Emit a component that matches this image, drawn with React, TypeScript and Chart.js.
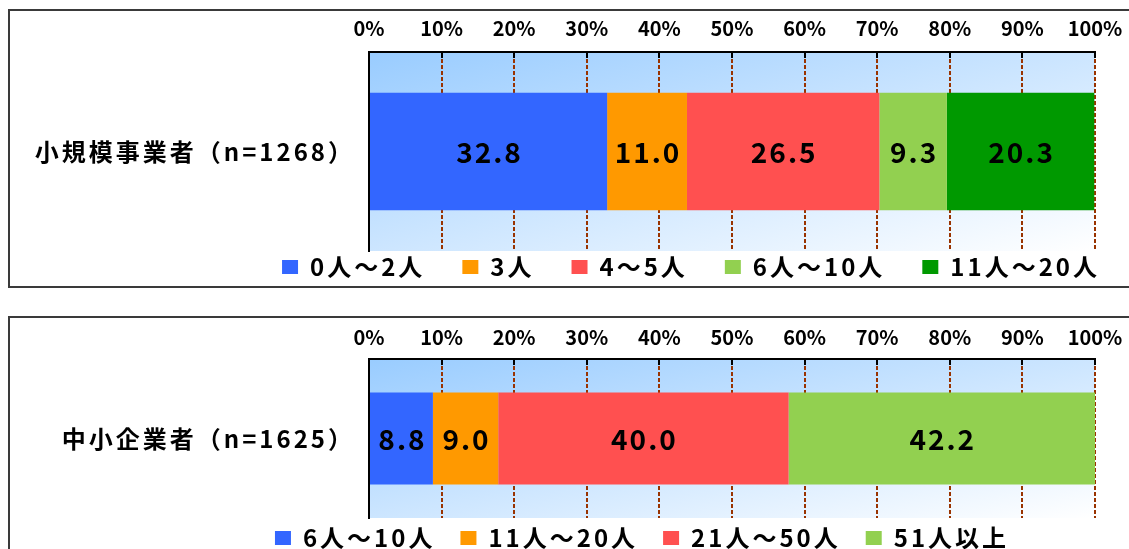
import React, { useEffect, useRef } from 'react';
import { Chart, registerables } from 'chart.js';

Chart.register(...registerables);

const FONT = "'Noto Sans CJK JP', 'Noto Sans CJK SC', sans-serif";

// ---- data ----
const smallCategories = ['小規模事業者（n=1268）'];
const smallSeries = ['0人～2人', '3人', '4～5人', '6人～10人', '11人～20人'];
const smallValues = [32.8, 11.0, 26.5, 9.3, 20.3];

const smeCategories = ['中小企業者（n=1625）'];
const smeSeries = ['6人～10人', '11人～20人', '21人～50人', '51人以上'];
const smeValues = [8.8, 9.0, 40.0, 42.2];

const percentTicks = [0, 10, 20, 30, 40, 50, 60, 70, 80, 90, 100];
const percentTickLabels = percentTicks.map((v) => `${v}%`);

// ---- styles ----
const smallColors = ['#3366FF', '#FF9900', '#FF5050', '#92D050', '#009900'];
const smeColors = ['#3366FF', '#FF9900', '#FF5050', '#92D050'];

type Geo = {
  height: number;
  axisH: number;
  legendH: number;
  legendCenterX: number;
  legendOffsetY: number;
  legendPad: number;
  tickPad: number;
  barPct: number;
};

const bgPlugin = {
  id: 'bgGradient',
  beforeLayout(chart: any) {
    chart.ctx.letterSpacing = '3px';
  },
  beforeDraw(chart: any) {
    const { ctx, chartArea: a } = chart;
    const W = a.right - a.left;
    const H = a.bottom - a.top;
    const k = 2 / (1 / (W * W) + 1 / (H * H));
    const g = ctx.createLinearGradient(a.left, a.top, a.left + k / W, a.top + k / H);
    g.addColorStop(0, '#99CCFF');
    g.addColorStop(1, '#FFFFFF');
    ctx.save();
    ctx.fillStyle = g;
    ctx.fillRect(a.left, a.top, W, H);
    ctx.restore();
    ctx.letterSpacing = '3px';
  },
};

const valueLabelPlugin = {
  id: 'valueLabels',
  afterDatasetsDraw(chart: any) {
    const ctx = chart.ctx;
    ctx.save();
    ctx.letterSpacing = '2px';
    ctx.font = `bold 28px ${FONT}`;
    ctx.fillStyle = '#000';
    ctx.textAlign = 'center';
    ctx.textBaseline = 'middle';
    chart.data.datasets.forEach((ds: any, di: number) => {
      const meta = chart.getDatasetMeta(di);
      meta.data.forEach((el: any, i: number) => {
        const v = ds.data[i] as number;
        const p = el.getProps(['x', 'base', 'y'], true);
        ctx.fillText(v.toFixed(1), (p.x + p.base) / 2 + 1, p.y + 1);
      });
    });
    ctx.restore();
    ctx.letterSpacing = '0px';
  },
};

function legendShift(g: Geo) {
  return {
    id: 'legendShift',
    afterLayout(chart: any) {
      const lg = chart.legend;
      if (!lg) return;
      const itemH = 24;
      const cy = chart.chartArea.bottom + g.legendOffsetY;
      lg.top = cy - itemH / 2 - g.legendPad;
      lg.bottom = cy + itemH;
      lg.height = lg.bottom - lg.top;
      lg.left = g.legendCenterX - 600;
      lg.right = g.legendCenterX + 600;
      lg.width = 1200;
    },
  };
}

function zeroPad(scale: any) {
  scale.paddingLeft = 0;
  scale.paddingRight = 0;
  scale.paddingTop = 0;
  scale.paddingBottom = 0;
}

function makeConfig(categories: string[], series: string[], values: number[], colors: string[], g: Geo): any {
  return {
    type: 'bar',
    data: {
      labels: categories,
      datasets: series.map((s, i) => ({
        label: s,
        data: [values[i]],
        backgroundColor: colors[i],
        borderWidth: 0,
        barPercentage: g.barPct,
        categoryPercentage: 1,
      })),
    },
    options: {
      indexAxis: 'y',
      responsive: false,
      animation: false,
      events: [],
      layout: { padding: { left: 0, right: 34, top: 0, bottom: 0 } },
      plugins: {
        tooltip: { enabled: false },
        title: { display: false },
        legend: {
          position: 'bottom',
          maxHeight: g.legendH,
          labels: {
            boxWidth: 16,
            boxHeight: 14,
            padding: g.legendPad,
            color: '#000',
            font: { size: 24, weight: 'bold', family: FONT },
          },
        },
      },
      scales: {
        x: {
          position: 'top',
          stacked: true,
          min: 0,
          max: 100,
          afterBuildTicks: (scale: any) => {
            scale.ticks = percentTicks.map((value) => ({ value }));
          },
          afterFit: (scale: any) => {
            scale.height = g.axisH;
            zeroPad(scale);
          },
          grid: {
            color: '#993300',
            lineWidth: 2,
            drawTicks: true,
            tickLength: -6,
            tickColor: '#000',
            tickWidth: 2,
          },
          border: { display: true, color: '#000', width: 2, dash: [4, 2] },
          ticks: {
            padding: g.tickPad,
            color: '#000',
            maxRotation: 0,
            autoSkip: false,
            z: 1,
            font: { size: 20, weight: 'bold', family: FONT },
            callback: (_v: any, i: number) => percentTickLabels[i],
          },
        },
        y: {
          stacked: true,
          afterFit: (scale: any) => {
            scale.width = 369;
            zeroPad(scale);
          },
          grid: { display: false },
          border: { display: true, color: '#000', width: 2, z: 1 },
          ticks: {
            padding: 6,
            color: '#000',
            font: { size: 24, weight: 'bold', family: FONT },
          },
        },
      },
    },
    plugins: [bgPlugin, valueLabelPlugin, legendShift(g)],
  };
}

const geo1: Geo = {
  height: 290,
  axisH: 52,
  legendH: 39,
  legendCenterX: 691,
  legendOffsetY: 16,
  legendPad: 37,
  tickPad: 18,
  barPct: 0.59,
};

const geo2: Geo = {
  height: 259,
  axisH: 69,
  legendH: 31,
  legendCenterX: 642,
  legendOffsetY: 20,
  legendPad: 25,
  tickPad: 16,
  barPct: 0.58,
};

function ChartCanvas({ config, top, height }: { config: any; top: number; height: number }) {
  const ref = useRef<HTMLCanvasElement>(null);
  useEffect(() => {
    const chart = new Chart(ref.current as HTMLCanvasElement, config);
    return () => chart.destroy();
  }, []);
  return (
    <canvas
      ref={ref}
      width={1129}
      height={height}
      style={{ position: 'absolute', left: 0, top, width: 1129, height, zIndex: 2 }}
    />
  );
}

export default function App() {
  return (
    <div
      style={{
        position: 'fixed',
        left: 0,
        top: 0,
        width: 1129,
        height: 549,
        overflow: 'hidden',
        background: '#fff',
      }}
    >
      <div
        style={{
          position: 'absolute',
          left: 8,
          top: 9,
          width: 1200,
          height: 279,
          border: '2px solid #3a3a3a',
          boxSizing: 'border-box',
          zIndex: 1,
        }}
      />
      <div
        style={{
          position: 'absolute',
          left: 8,
          top: 316,
          width: 1200,
          height: 300,
          border: '2px solid #3a3a3a',
          boxSizing: 'border-box',
          zIndex: 1,
        }}
      />
      <ChartCanvas
        config={makeConfig(smallCategories, smallSeries, smallValues, smallColors, geo1)}
        top={0}
        height={geo1.height}
      />
      <ChartCanvas
        config={makeConfig(smeCategories, smeSeries, smeValues, smeColors, geo2)}
        top={290}
        height={geo2.height}
      />
    </div>
  );
}
